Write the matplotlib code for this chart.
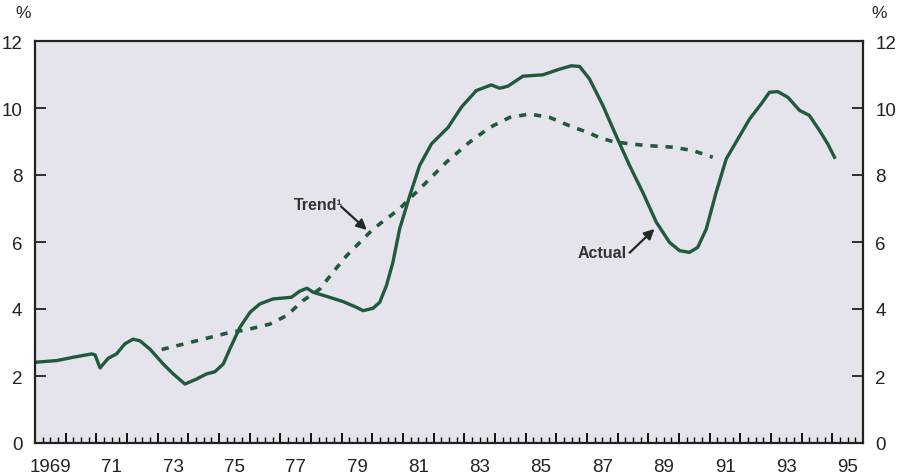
import matplotlib
matplotlib.use("Agg")
import matplotlib.pyplot as plt
from matplotlib.ticker import MultipleLocator, NullFormatter

# ---- data ----
actual_years = [1969.00, 1969.71, 1970.25, 1970.85, 1970.96, 1971.12, 1971.39, 1971.66,
                1971.93, 1972.20, 1972.42, 1972.75, 1973.18, 1973.51, 1973.89, 1974.27,
                1974.59, 1974.87, 1975.14, 1975.35, 1975.68, 1976.01, 1976.33, 1976.76,
                1977.36, 1977.63, 1977.87, 1978.07, 1978.50, 1979.05, 1979.48, 1979.70,
                1980.02, 1980.24, 1980.46, 1980.67, 1980.89, 1981.22, 1981.54, 1981.93,
                1982.47, 1982.90, 1983.39, 1983.88, 1984.15, 1984.42, 1984.91, 1985.56,
                1986.11, 1986.49, 1986.76, 1987.08, 1987.52, 1987.95, 1988.39, 1988.82,
                1989.26, 1989.69, 1990.02, 1990.34, 1990.61, 1990.89, 1991.21, 1991.54,
                1991.86, 1992.30, 1992.68, 1992.95, 1993.22, 1993.55, 1993.93, 1994.25,
                1994.58, 1994.85, 1995.07]
actual_values = [2.41, 2.46, 2.56, 2.66, 2.63, 2.24, 2.53, 2.66,
                 2.96, 3.10, 3.05, 2.80, 2.36, 2.06, 1.76, 1.91,
                 2.06, 2.13, 2.36, 2.80, 3.45, 3.90, 4.15, 4.30,
                 4.35, 4.53, 4.62, 4.50, 4.38, 4.22, 4.05, 3.95,
                 4.02, 4.20, 4.70, 5.39, 6.39, 7.38, 8.28, 8.93,
                 9.42, 10.02, 10.52, 10.69, 10.59, 10.65, 10.95, 10.99,
                 11.16, 11.26, 11.24, 10.87, 10.07, 9.17, 8.28, 7.48,
                 6.59, 5.99, 5.74, 5.69, 5.84, 6.39, 7.48, 8.48,
                 8.98, 9.67, 10.12, 10.47, 10.49, 10.32, 9.93, 9.78,
                 9.33, 8.93, 8.53]

trend_years = [1973.13, 1975.35, 1975.90, 1976.66, 1977.20, 1977.74, 1978.29, 1978.72,
               1979.16, 1979.92, 1980.24, 1980.89, 1981.22, 1981.54, 1982.41, 1983.17,
               1983.83, 1984.48, 1985.13, 1985.78, 1986.43, 1987.08, 1987.45, 1987.84,
               1988.39, 1988.93, 1989.80, 1990.45, 1991.10]
trend_values = [2.79, 3.30, 3.38, 3.55, 3.80, 4.25, 4.60, 5.10,
                5.59, 6.29, 6.54, 6.99, 7.30, 7.58, 8.38, 8.98,
                9.42, 9.72, 9.82, 9.72, 9.47, 9.25, 9.10, 9.00,
                8.93, 8.88, 8.83, 8.73, 8.53]

xtick_labels = ["1969", "71", "73", "75", "77", "79", "81", "83", "85", "87", "89", "91", "93", "95"]
xtick_years = [1969, 1971, 1973, 1975, 1977, 1979, 1981, 1983, 1985, 1987, 1989, 1991, 1993, 1995]
yticks = [0, 2, 4, 6, 8, 10, 12]

# ---- style ----
plt.rcParams['font.family'] = ['Liberation Sans', 'DejaVu Sans']
GREEN = "#1f5a3c"
BG = "#e5e3eb"
INK = "#222222"

fig = plt.figure(figsize=(9.01, 4.77), dpi=100)
ax = fig.add_axes([35/901, 1-444/477, (863-35)/901, (444-42)/477])
ax.set_facecolor(BG)

ax.plot(actual_years, actual_values, color=GREEN, lw=2.4, solid_joinstyle='round')
ax.plot(trend_years, trend_values, color=GREEN, lw=2.6, linestyle=(0, (2.0, 2.2)))

ax.set_xlim(1969, 1996)
ax.set_ylim(0, 12)

# x ticks: inward major at years, minor at quarters; labels at mid-year
ax.xaxis.set_major_locator(MultipleLocator(1))
ax.xaxis.set_minor_locator(MultipleLocator(0.25))
ax.xaxis.set_major_formatter(NullFormatter())
ax.tick_params(axis='x', which='major', direction='in', length=7, width=1.3, top=False)
ax.tick_params(axis='x', which='minor', direction='in', length=4, width=1.0, top=False)
for yr, lab in zip(xtick_years, xtick_labels):
    ax.text(yr + 0.5, -0.45, lab, ha='center', va='top', fontsize=13.5, color=INK)

ax.set_yticks(yticks)
ax.set_yticklabels([str(v) for v in yticks])
ax.tick_params(axis='y', which='major', direction='in', length=8, width=1.3,
               left=True, right=True, labelleft=True, labelright=True,
               labelsize=13.5, pad=9, colors=INK)

for s in ax.spines.values():
    s.set_linewidth(1.6)
    s.set_color(INK)

fig.text(15/901, 1-14/477, "%", ha='left', va='center', fontsize=12.5, color=INK)
fig.text(887/901, 1-14/477, "%", ha='right', va='center', fontsize=12.5, color=INK)

# annotations
ax.annotate("", xy=(1979.82, 6.36), xytext=(1978.98, 7.06),
            arrowprops=dict(arrowstyle="-|>,head_length=0.6,head_width=0.3",
                            color="#1e2a24", lw=1.6, shrinkA=0, shrinkB=0))
ax.text(1977.45, 7.13, "Trend\u00b9", ha='left', va='center', fontsize=11.5,
        fontweight='bold', color="#333333")
ax.annotate("", xy=(1989.20, 6.39), xytext=(1988.39, 5.68),
            arrowprops=dict(arrowstyle="-|>,head_length=0.6,head_width=0.3",
                            color="#1e2a24", lw=1.6, shrinkA=0, shrinkB=0))
ax.text(1988.30, 5.69, "Actual", ha='right', va='center', fontsize=11.5,
        fontweight='bold', color="#333333")

fig.savefig("out.png", dpi=100, facecolor="white")
